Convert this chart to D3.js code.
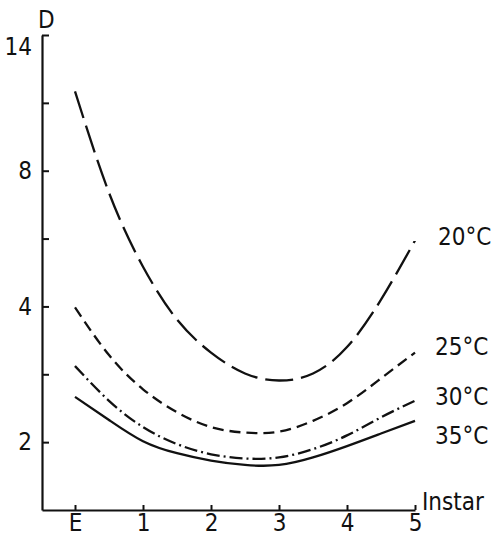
<!DOCTYPE html>
<html>
<head>
<meta charset="utf-8">
<script src="https://cdn.jsdelivr.net/npm/d3@7"></script>
<style>
  html, body { margin: 0; padding: 0; background: #fff; }
  svg text { font-family: "Liberation Sans Narrow", "DejaVu Sans", sans-serif; font-stretch: condensed; fill: #111; }
</style>
</head>
<body>
<svg id="chart" width="496" height="539"></svg>
<script>
// ---- data ----
const instar = [0, 0.5, 1, 1.5, 2, 2.5, 3, 3.5, 4, 4.5, 5];
const xTickValues = [0, 1, 2, 3, 4, 5];
const xTickLabels = ["E", "1", "2", "3", "4", "5"];
const d20 = [12.0, 7.15, 4.90, 3.74, 3.16, 2.84, 2.74, 2.84, 3.25, 4.14, 5.6];
const d25 = [3.98, 3.12, 2.62, 2.33, 2.16, 2.10, 2.11, 2.23, 2.44, 2.77, 3.16];
const d30 = [2.95, 2.47, 2.16, 1.98, 1.88, 1.84, 1.85, 1.93, 2.07, 2.27, 2.47];
const d35 = [2.52, 2.24, 2.01, 1.89, 1.82, 1.78, 1.78, 1.85, 1.96, 2.09, 2.23];
const seriesNames = ["20°C", "25°C", "30°C", "35°C"];
const yTickValues = [2, 2 * Math.SQRT2, 4, 4 * Math.SQRT2, 8, 8 * Math.SQRT2, 16];
const yTickLabels = ["2", "", "4", "", "8", "", "14"];

// ---- layout ----
const svg = d3.select("#chart");
const x = d3.scaleLinear().domain([(42 - 75) / 68, 5]).range([42, 415]);
const y = d3.scaleLog().base(2).domain([Math.SQRT2, 16]).range([510, 35]);

const ink = "#111";
const fs = "24px";

// axes
const yAxis = d3.axisLeft(y)
  .tickValues(yTickValues)
  .tickFormat((d, i) => yTickLabels[i])
  .tickSizeInner(-7).tickSizeOuter(0).tickPadding(10);
const gy = svg.append("g").attr("transform", "translate(42,0)").call(yAxis);

const xAxis = d3.axisBottom(x)
  .tickValues(xTickValues)
  .tickFormat((d, i) => xTickLabels[i])
  .tickSizeInner(-5).tickSizeOuter(0).tickPadding(4);
const gx = svg.append("g").attr("transform", "translate(0,510)").call(xAxis);

[gx, gy].forEach(g => {
  g.select(".domain").attr("stroke", ink).attr("stroke-width", 2.2);
  g.selectAll(".tick line").attr("stroke", ink).attr("stroke-width", 2);
  g.selectAll(".tick text").style("font-size", fs).attr("fill", ink);
});
// top label sits just below its tick
gy.selectAll(".tick text").filter((d, i) => i === yTickLabels.length - 1).attr("dy", "0.8em");

// axis titles
svg.append("text").attr("x", 38).attr("y", 28).style("font-size", fs).text("D");
svg.append("text").attr("x", 422).attr("y", 510).style("font-size", fs).text("Instar");

// curves
const line = d3.line().x((d, i) => x(instar[i])).y(d => y(d)).curve(d3.curveNatural);
const series = [
  { vals: d20, dash: "28,8", label: seriesNames[0], lx: 438, ly: 245 },
  { vals: d25, dash: "11,6", label: seriesNames[1], lx: 435, ly: 355 },
  { vals: d30, dash: "13,4,2,4", label: seriesNames[2], lx: 435, ly: 405 },
  { vals: d35, dash: null, label: seriesNames[3], lx: 435, ly: 444 }
];
series.forEach(s => {
  svg.append("path")
    .attr("d", line(s.vals))
    .attr("fill", "none")
    .attr("stroke", ink)
    .attr("stroke-width", 2.3)
    .attr("stroke-dasharray", s.dash);
  svg.append("text").attr("x", s.lx).attr("y", s.ly).style("font-size", fs).text(s.label);
});
</script>
</body>
</html>
